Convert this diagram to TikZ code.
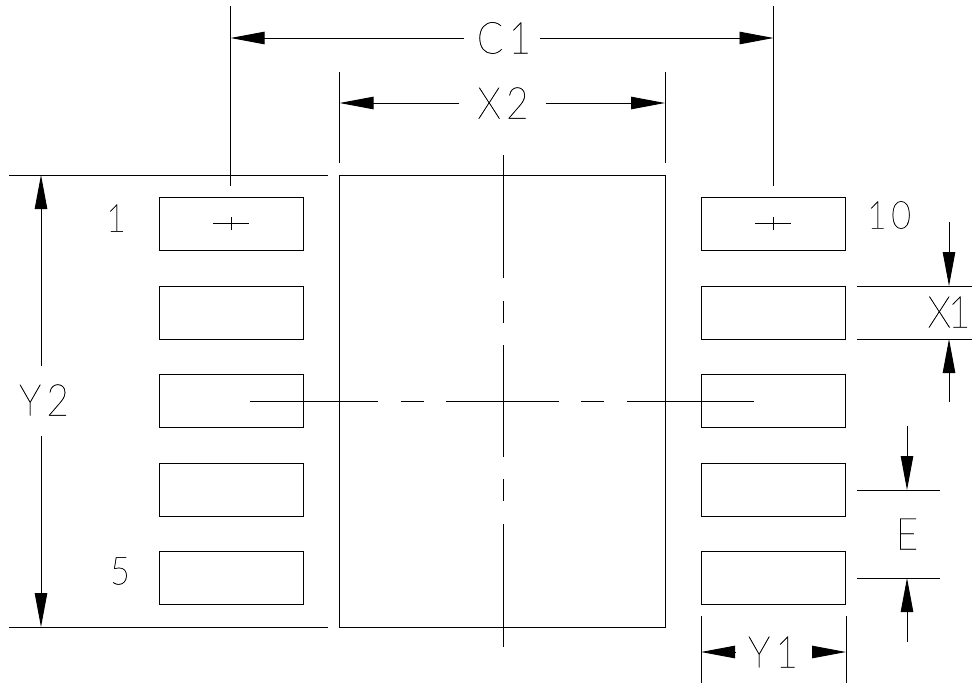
\documentclass[tikz,border=0pt]{standalone}
\usepackage{fontspec}
\setmainfont[FakeStretch=0.88,LetterSpace=12,FakeBold=0.5]{Lato Thin}
\usetikzlibrary{arrows.meta}
\tikzset{
  x=1pt,y=-1pt,
  every path/.style={line width=0.9pt,line cap=butt},
  pad/.style={draw,rectangle,inner sep=0,minimum width=144pt,minimum height=53pt},
  big/.style={inner sep=0,font=\fontsize{44}{44}\selectfont},
  small/.style={inner sep=0,font=\fontsize{38.5}{38.5}\selectfont},
  dim/.style={-{Triangle[length=34pt,width=12.5pt]}},
  thin line/.style={line width=0.8pt},
}
\begin{document}
\begin{tikzpicture}
\useasboundingbox (0,0) rectangle (972,683);
% pads
\foreach \n/\y in {1/223.7,2/312.7,3/401,4/489.7,5/578.2}{
  \node[pad] (L\n) at (231,\y) {};
  \node[pad] (R\n) at (773.5,\y) {};
}
% centre paddle
\node[draw,rectangle,inner sep=0,minimum width=325.5pt,minimum height=452pt] (pad) at (502.3,401) {};
% text
\node[big] (tC) at (504,38) {C1};
\node[big] (tX2) at (503,103) {X2};
\node[big] (tY2) at (44,400) {Y2};
\node[big] (tX1) at (949,312) {X\kern-3pt 1};
\node[big] (tE) at (907,534) {E};
\node[big] (tY1) at (773,652) {Y1};
\node[small] (t1) at (116,218) {1};
\node[small] (t10) at (889,215) {10};
\node[small] (t5) at (120,571) {5};
% named free ends
\coordinate (c1a) at (230.6,6); \coordinate (c1b) at (230.6,186);
\coordinate (c2a) at (773.5,6); \coordinate (c2b) at (773.5,186);
\coordinate (x2a) at (339.6,72); \coordinate (x2b) at (339.6,163);
\coordinate (x3a) at (665,72); \coordinate (x3b) at (665,163);
\coordinate (ya) at (9,175); \coordinate (yb) at (328,175);
\coordinate (yc) at (9,627); \coordinate (yd) at (328,627);
% extension lines
\draw (c1a)--(c1b); \draw (c2a)--(c2b);
\draw (x2a)--(x2b); \draw (x3a)--(x3b);
\draw (ya)--(yb); \draw (yc)--(yd);
\coordinate (e1) at (857,286); \coordinate (e2) at (972,286);
\coordinate (e3) at (857,339); \coordinate (e4) at (972,339);
\coordinate (e5) at (857,490); \coordinate (e6) at (940,490);
\coordinate (e7) at (857,578); \coordinate (e8) at (940,578);
\draw (e1)--(e2); \draw (e3)--(e4); \draw (e5)--(e6); \draw (e7)--(e8);
\coordinate (y1a) at (701,616); \coordinate (y1b) at (701,683);
\coordinate (y1c) at (846,616); \coordinate (y1d) at (846,683);
\draw (y1a)--(y1b); \draw (y1c)--(y1d);
% dimension arrows
\coordinate (d1) at (464,38); \coordinate (d1t) at (230.6,38);
\coordinate (d2) at (540,38); \coordinate (d2t) at (773.5,38);
\coordinate (d3) at (459,103); \coordinate (d3t) at (339.6,103);
\coordinate (d4) at (546,103); \coordinate (d4t) at (665,103);
\coordinate (d5) at (41,366); \coordinate (d5t) at (41,175);
\coordinate (d6) at (41,436); \coordinate (d6t) at (41,627);
\coordinate (d7) at (949,222); \coordinate (d7t) at (949,286);
\coordinate (d8) at (949,402); \coordinate (d8t) at (949,339);
\coordinate (d9) at (907,426); \coordinate (d9t) at (907,490);
\coordinate (d10) at (907,642); \coordinate (d10t) at (907,578);
\coordinate (d11) at (735,652); \coordinate (d11t) at (701,652);
\coordinate (d12) at (812,652); \coordinate (d12t) at (846,652);
\foreach \k in {1,...,12}{\draw[dim] (d\k)--(d\k t);}
% crosses on pads 1 and 10
\coordinate (p1) at (213,223.5); \coordinate (p2) at (249,223.5);
\coordinate (p3) at (231,217); \coordinate (p4) at (231,230);
\coordinate (q1) at (755,223.5); \coordinate (q2) at (791,223.5);
\coordinate (q3) at (773.5,217); \coordinate (q4) at (773.5,230);
\draw[thin line] (p1)--(p2); \draw[thin line] (p3)--(p4);
\draw[thin line] (q1)--(q2); \draw[thin line] (q3)--(q4);
% centre lines
\coordinate (h0) at (250,401); \coordinate (h1) at (378,401);
\coordinate (h2) at (401,401); \coordinate (h3) at (423.5,401);
\coordinate (h4) at (446,401); \coordinate (h5) at (559,401);
\coordinate (h6) at (581,401); \coordinate (h7) at (604,401);
\coordinate (h8) at (627,401); \coordinate (h9) at (754,401);
\draw (h0)--(h1); \draw (h2)--(h3); \draw (h4)--(h5); \draw (h6)--(h7); \draw (h8)--(h9);
\coordinate (v0) at (503,155); \coordinate (v1) at (503,278);
\coordinate (v2) at (503,301); \coordinate (v3) at (503,323);
\coordinate (v4) at (503,345); \coordinate (v5) at (503,457);
\coordinate (v6) at (503,479); \coordinate (v7) at (503,501);
\coordinate (v8) at (503,524); \coordinate (v9) at (503,647);
\draw (v0)--(v1); \draw (v2)--(v3); \draw (v4)--(v5); \draw (v6)--(v7); \draw (v8)--(v9);
\end{tikzpicture}
\end{document}
